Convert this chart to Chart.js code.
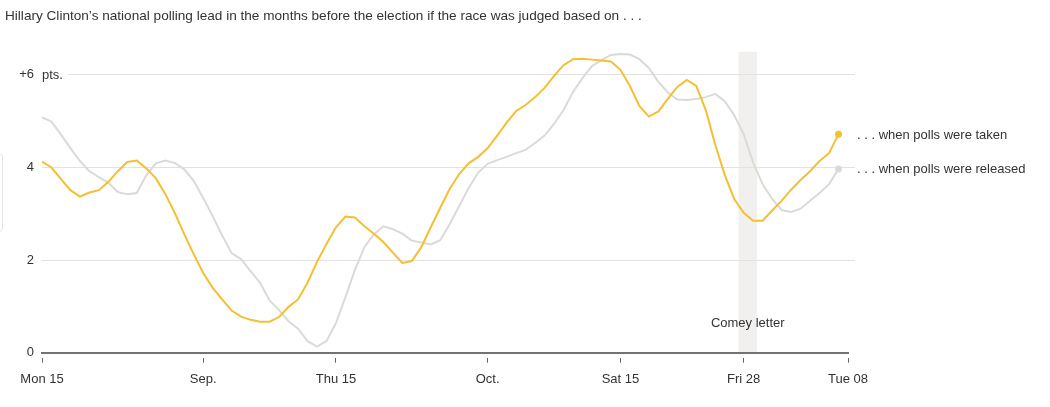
<!DOCTYPE html>
<html>
<head>
<meta charset="utf-8">
<script src="https://cdn.jsdelivr.net/npm/chart.js@4/dist/chart.umd.min.js"></script>
<style>
    html, body { margin: 0; padding: 0; background: #fff; }
    #wrap { position: relative; width: 1050px; height: 407px; overflow: hidden; }
    #title {
        position: absolute; left: 5px; top: 8px; z-index: 2;
        font: 13.6px "Liberation Sans", Arial, sans-serif; color: #333; line-height: 16px;
        white-space: nowrap;
    }
    #edge {
        position: absolute; left: -10px; top: 153px; width: 11px; height: 77px;
        border: 1px solid #e6e6e6; border-radius: 4px;
    }
</style>
</head>
<body>
<div id="wrap">
    <div id="title">Hillary Clinton’s national polling lead in the months before the election if the race was judged based on . . .</div>
    <div id="edge"></div>
    <canvas id="pollChart"></canvas>
</div>
<script>
// Days since Mon Aug 15, 2016 (one reading per day)
const tickDays = [0, 17, 31, 47, 61, 74, 85];
const tickLabels = ['Mon 15', 'Sep.', 'Thu 15', 'Oct.', 'Sat 15', 'Fri 28', 'Tue 08'];
const yTicks = [0, 2, 4, 6];

// Clinton lead, by date polls were taken
const whenTaken = [
    4.13, 4.00, 3.75, 3.51, 3.37, 3.46, 3.51, 3.69, 3.92, 4.12,
    4.15, 3.98, 3.77, 3.43, 3.02, 2.56, 2.13, 1.72, 1.40, 1.15,
    0.91, 0.78, 0.71, 0.67, 0.67, 0.77, 0.99, 1.15, 1.51, 1.96,
    2.35, 2.71, 2.94, 2.92, 2.73, 2.57, 2.39, 2.16, 1.94, 1.98,
    2.28, 2.71, 3.13, 3.54, 3.86, 4.09, 4.23, 4.42, 4.69, 4.97,
    5.22, 5.35, 5.52, 5.72, 5.98, 6.21, 6.34, 6.35, 6.33, 6.31,
    6.29, 6.11, 5.76, 5.33, 5.10, 5.21, 5.48, 5.74, 5.89, 5.76,
    5.24, 4.49, 3.84, 3.32, 3.02, 2.85, 2.85, 3.07, 3.28, 3.52,
    3.73, 3.92, 4.14, 4.31, 4.72
];

// Clinton lead, by date polls were released
const whenReleased = [
    5.08, 4.99, 4.71, 4.42, 4.14, 3.92, 3.79, 3.67, 3.47, 3.42,
    3.45, 3.83, 4.09, 4.15, 4.10, 3.96, 3.71, 3.34, 2.95, 2.53,
    2.15, 2.02, 1.76, 1.51, 1.13, 0.92, 0.68, 0.52, 0.25, 0.13,
    0.25, 0.64, 1.20, 1.79, 2.28, 2.56, 2.73, 2.67, 2.57, 2.42,
    2.38, 2.34, 2.43, 2.78, 3.17, 3.56, 3.89, 4.08, 4.16, 4.23,
    4.31, 4.38, 4.53, 4.69, 4.94, 5.24, 5.63, 5.93, 6.19, 6.32,
    6.43, 6.45, 6.44, 6.34, 6.15, 5.85, 5.62, 5.47, 5.46, 5.48,
    5.52, 5.59, 5.43, 5.13, 4.72, 4.10, 3.64, 3.32, 3.08, 3.04,
    3.11, 3.28, 3.45, 3.64, 3.97
];

const seriesNames = ['. . . when polls were taken', '. . . when polls were released'];

// Comey letter band (in days)
const comeyFrom = 73.45;
const comeyTo = 75.4;
const comeyTop = 6.5;

const FONT = '"Liberation Sans", Arial, sans-serif';
const TEXT = '#333';
const GRID = '#e2e2e2';

function toPoints(values) {
    return values.map((v, i) => ({ x: i, y: v }));
}

function endDot(values) {
    return ctx => ctx.dataIndex === values.length - 1 ? 3.5 : 0;
}

const comeyPlugin = {
    id: 'comey',
    beforeDraw(chart) {
        const { ctx, scales: { x, y } } = chart;
        const x1 = x.getPixelForValue(comeyFrom);
        const x2 = x.getPixelForValue(comeyTo);
        const y1 = y.getPixelForValue(comeyTop);
        const y2 = y.getPixelForValue(0);
        ctx.save();
        ctx.fillStyle = '#f1f0ee';
        ctx.fillRect(x1, y1, x2 - x1, y2 - y1);
        ctx.restore();
    },
    beforeDatasetsDraw(chart) {
        const { ctx, scales: { y }, chartArea } = chart;
        ctx.save();
        // gridlines run a little past the plot on the right
        ctx.strokeStyle = GRID;
        ctx.lineWidth = 1;
        yTicks.filter(v => v > 0).forEach(v => {
            const py = Math.round(y.getPixelForValue(v) - 0.5) + 0.5;
            ctx.beginPath();
            ctx.moveTo(chartArea.right - 1, py);
            ctx.lineTo(chartArea.right + 7, py);
            ctx.stroke();
        });
        const py = y.getPixelForValue(6);
        ctx.fillStyle = '#fff';
        ctx.fillRect(chartArea.left - 1, py - 3, 27, 6);
        ctx.fillStyle = TEXT;
        ctx.font = '13px ' + FONT;
        ctx.textBaseline = 'middle';
        ctx.fillText('pts.', chartArea.left, py + 1);
        ctx.restore();
    },
    afterDatasetsDraw(chart) {
        const { ctx, scales: { x, y }, chartArea } = chart;
        ctx.save();
        ctx.fillStyle = TEXT;
        ctx.font = '13px ' + FONT;
        ctx.textBaseline = 'middle';
        chart.data.datasets.forEach((ds, i) => {
            const meta = chart.getDatasetMeta(i);
            const last = meta.data[meta.data.length - 1];
            ctx.fillText(seriesNames[i], chartArea.right + 9, last.y + 1);
        });
        ctx.textAlign = 'center';
        ctx.fillText('Comey letter', x.getPixelForValue((comeyFrom + comeyTo) / 2), y.getPixelForValue(0.64));
        ctx.restore();
    }
};

const chart = new Chart(document.getElementById('pollChart'), {
    type: 'line',
    data: {
        datasets: [{
            label: seriesNames[0],
            data: toPoints(whenTaken),
            borderColor: '#f5bf33',
            backgroundColor: '#f5bf33',
            borderWidth: 2,
            pointRadius: endDot(whenTaken),
            pointBorderWidth: 0,
            tension: 0
        }, {
            label: seriesNames[1],
            data: toPoints(whenReleased),
            borderColor: '#dadad7',
            backgroundColor: '#dadad7',
            borderWidth: 2,
            pointRadius: endDot(whenReleased),
            pointBorderWidth: 0,
            tension: 0
        }]
    },
    options: {
        responsive: true,
        maintainAspectRatio: false,
        animation: false,
        layout: { padding: { left: 0, right: 202, top: 28.6, bottom: 0 } },
        plugins: {
            legend: { display: false },
            tooltip: { enabled: false }
        },
        scales: {
            x: {
                type: 'linear',
                min: 0,
                max: 85,
                afterBuildTicks: scale => { scale.ticks = tickDays.map(v => ({ value: v })); },
                afterFit: scale => { scale.height = 54.3; },
                border: { display: true, color: '#737373', width: 2 },
                grid: {
                    drawOnChartArea: false,
                    drawTicks: true,
                    tickLength: 10,
                    tickColor: '#666',
                    tickWidth: 1,
                    tickBorderDash: [0, 4, 6, 40]
                },
                ticks: {
                    autoSkip: false,
                    maxRotation: 0,
                    padding: 9,
                    color: TEXT,
                    font: { family: FONT, size: 13 },
                    callback: v => tickLabels[tickDays.indexOf(v)]
                }
            },
            y: {
                min: 0,
                max: 7,
                afterBuildTicks: scale => { scale.ticks = yTicks.map(v => ({ value: v })); },
                afterFit: scale => { scale.width = 42; },
                border: { display: false },
                grid: { color: GRID, lineWidth: 1, drawTicks: false },
                ticks: {
                    padding: 8,
                    color: TEXT,
                    font: { family: FONT, size: 13 },
                    callback: v => v === 6 ? '+6' : String(v)
                }
            }
        }
    },
    plugins: [comeyPlugin]
});
</script>
</body>
</html>
